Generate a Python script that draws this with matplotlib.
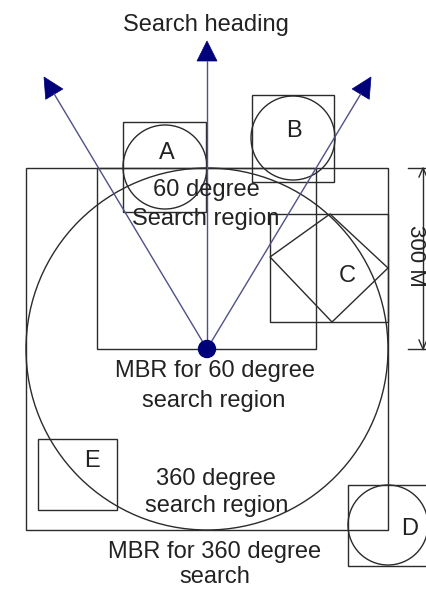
import numpy as np
import matplotlib
matplotlib.use("Agg")
import matplotlib.pyplot as plt
from matplotlib.patches import Rectangle, Circle, Polygon

plt.rcParams['font.family'] = ['Liberation Sans', 'DejaVu Sans']

W, H = 427, 589
EDGE = '#2b2b2b'
NAVY = '#00007a'
FS = 17

# query point and search radius (pixels)
origin = (207, 349)
radius = 181

# MBRs: x0, y0, x1, y1 (image coords, y down)
mbr_360 = (26, 168, 388, 530)
mbr_60 = (97, 168, 316, 349)

# objects: name, box, circle (cx, cy, r) or None
obj_names = ['A', 'B', 'C', 'D', 'E']
obj_boxes = [(123, 122, 206, 212), (252, 95, 334, 182), (270, 214, 388, 322),
             (348, 485, 430, 566), (38, 439, 117, 510)]
obj_circles = [(165, 167, 42), (293, 138, 42), None, (388, 525, 40), None]
obj_label_pos = [(167, 159), (294, 137), (347, 282), (410, 535), (92, 467)]
diamond_C = [(270, 257), (330, 214), (388, 268), (332, 322)]

# heading arrows: tip points
arrow_tips = [(44, 77), (207, 41), (371, 77)]

labels = [
    ("Search heading", 206, 31),
    ("60 degree", 206, 196),
    ("Search region", 206, 225),
    ("MBR for 60 degree", 215, 377),
    ("search region", 214, 407),
    ("360 degree", 216, 485),
    ("search region", 217, 512),
    ("MBR for 360 degree", 215, 558),
    ("search", 215, 583),
]
dim_label = "300 M"


def rect(ax, b, **kw):
    x0, y0, x1, y1 = b
    ax.add_patch(Rectangle((x0, y0), x1 - x0, y1 - y0, fill=False,
                           ec=EDGE, lw=1.0, **kw))


fig = plt.figure(figsize=(W / 100, H / 100), dpi=100)
ax = fig.add_axes([0, 0, 1, 1])
ax.set_xlim(0, W)
ax.set_ylim(H, 0)
ax.set_aspect('equal')
ax.axis('off')

rect(ax, mbr_360)
rect(ax, mbr_60)
ax.add_patch(Circle(origin, radius, fill=False, ec=EDGE, lw=1.0))

for name, box, circ, (lx, ly) in zip(obj_names, obj_boxes, obj_circles, obj_label_pos):
    rect(ax, box)
    if circ is not None:
        ax.add_patch(Circle(circ[:2], circ[2], fill=False, ec=EDGE, lw=1.0))
    ax.text(lx, ly, name, fontsize=FS, ha='center', va='baseline', color='#222222')
ax.add_patch(Polygon(diamond_C, closed=True, fill=False, ec=EDGE, lw=1.0))

# arrows
head_len, head_w = 20, 10
for tx, ty in arrow_tips:
    ox, oy = origin
    d = np.array([tx - ox, ty - oy], dtype=float)
    L = np.hypot(*d)
    u = d / L
    n = np.array([-u[1], u[0]])
    base = np.array([tx, ty]) - u * head_len
    ax.plot([ox, base[0]], [oy, base[1]], color='#50508a', lw=1.0)
    tri = [(tx, ty), tuple(base + n * head_w), tuple(base - n * head_w)]
    ax.add_patch(Polygon(tri, closed=True, fc=NAVY, ec=NAVY, lw=0.5))
ax.add_patch(Circle(origin, 8.5, fc=NAVY, ec=NAVY, zorder=5))

# dimension line on the right
dx = 423
y_top, y_bot = mbr_60[1], mbr_60[3]
ax.plot([dx, dx], [y_top, y_bot], color=EDGE, lw=1.0)
ax.plot([408, 427], [y_top, y_top], color=EDGE, lw=1.0)
ax.plot([408, 427], [y_bot, y_bot], color=EDGE, lw=1.0)
for yy, s in [(y_top, 1), (y_bot, -1)]:
    ax.plot([dx - 4, dx, dx + 4], [yy + s * 9, yy, yy + s * 9], color=EDGE, lw=1.0)
ax.text(416, 256, dim_label, fontsize=FS - 1, rotation=-90, ha='center', va='center',
        color='#222222')

for s, x, y in labels:
    ax.text(x, y, s, fontsize=FS, ha='center', va='baseline', color='#222222')

fig.savefig('out.png', dpi=100)
